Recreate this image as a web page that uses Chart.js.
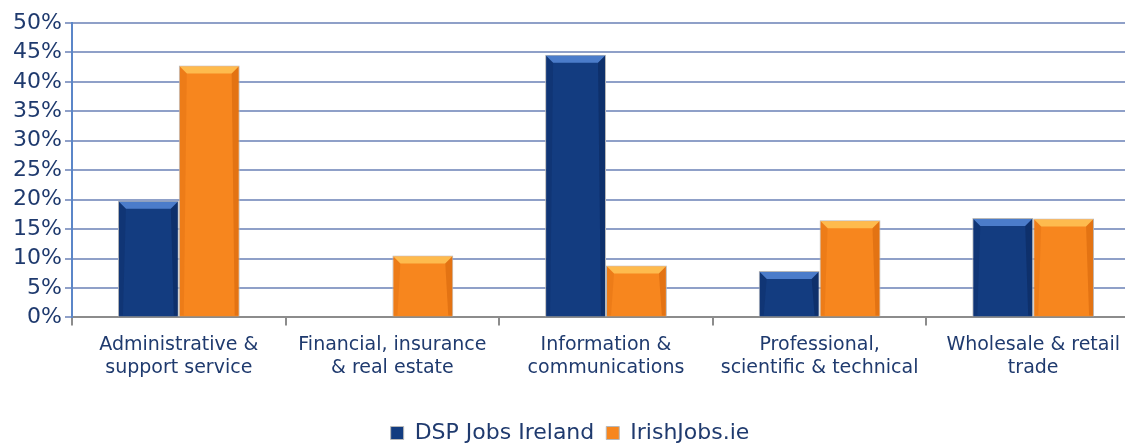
<!DOCTYPE html>
<html>
<head>
<meta charset="utf-8">
<script src="https://cdn.jsdelivr.net/npm/chart.js@4"></script>
<style>
  html, body { margin: 0; padding: 0; background: #fff; overflow: hidden; }
  #wrap { width: 1140px; height: 454px; position: relative; }
</style>
</head>
<body>
<div id="wrap"><canvas id="myChart"></canvas></div>
<script>
const categories = [
  ['Administrative &', 'support service'],
  ['Financial, insurance', '& real estate'],
  ['Information &', 'communications'],
  ['Professional,', 'scientific & technical'],
  ['Wholesale & retail', 'trade']
];
const dspJobs = [19.8, 0, 44.6, 7.9, 16.9];
const irishJobs = [42.8, 10.5, 8.8, 16.5, 16.8];
const seriesNames = ['DSP Jobs Ireland', 'IrishJobs.ie'];

const navy = '#1F3A6E';
// light / dark bevel shades per series
const bevels = [
  { light: 'rgba(90,140,220,0.8)', dark: 'rgba(5,25,70,0.35)' },
  { light: 'rgba(255,200,90,0.8)', dark: 'rgba(190,80,0,0.35)' }
];

// draws a simple 3d bevel over each bar, using the bar elements' own positions
const bevelPlugin = {
  id: 'bevel',
  afterDatasetsDraw(chart){
    const c = chart.ctx;
    chart.data.datasets.forEach((ds, i) => {
      const meta = chart.getDatasetMeta(i);
      meta.data.forEach(bar => {
        const p = bar.getProps(['x', 'y', 'base', 'width'], true);
        const h = p.base - p.y;
        if (h < 2) return;
        const l = p.x - p.width / 2 + 1, r = p.x + p.width / 2 - 1;
        const t = p.y + 1, b = p.base - 1;
        const bv = Math.min(7, h / 2);
        c.save();
        // top bevel
        c.fillStyle = bevels[i].light;
        c.beginPath();
        c.moveTo(l, t); c.lineTo(r, t); c.lineTo(r - bv, t + bv); c.lineTo(l + bv, t + bv);
        c.closePath(); c.fill();
        // right side
        c.fillStyle = bevels[i].dark;
        c.beginPath();
        c.moveTo(r, t); c.lineTo(r, b); c.lineTo(r - 4, b); c.lineTo(r - bv, t + bv);
        c.closePath(); c.fill();
        // left side, softer
        c.globalAlpha = 0.5;
        c.beginPath();
        c.moveTo(l, t); c.lineTo(l + bv, t + bv); c.lineTo(l + 4, b); c.lineTo(l, b);
        c.closePath(); c.fill();
        c.restore();
      });
    });
  }
};

chartIt();

function chartIt(){
  const ctx = document.getElementById('myChart');
  new Chart(ctx, {
    type: 'bar',
    data: {
      labels: categories,
      datasets: [{
        label: seriesNames[0],
        data: dspJobs,
        backgroundColor: '#133C80',
        borderColor: '#B8B8B8',
        borderWidth: 1
      }, {
        label: seriesNames[1],
        data: irishJobs,
        backgroundColor: '#F7861E',
        borderColor: '#B8B8B8',
        borderWidth: 1
      }]
    },
    plugins: [bevelPlugin],
    options: {
      responsive: true,
      maintainAspectRatio: false,
      animation: false,
      layout: { padding: { top: 23, left: 0, right: 0, bottom: 0 } },
      datasets: { bar: { categoryPercentage: 0.57, barPercentage: 1.0 } },
      plugins: {
        tooltip: { enabled: false },
        legend: {
          position: 'bottom',
          labels: {
            boxWidth: 13,
            boxHeight: 13,
            padding: 12,
            color: navy,
            font: { family: 'DejaVu Sans', size: 22 }
          }
        }
      },
      scales: {
        x: {
          afterFit(scale){ scale.height += 23; },
          grid: {
            offset: true,
            drawOnChartArea: false,
            color: '#8C8C8C',
            tickLength: 8,
            lineWidth: 2
          },
          border: { color: '#8C8C8C', width: 2 },
          ticks: {
            color: navy,
            padding: 8,
            maxRotation: 0,
            font: { family: 'DejaVu Sans', size: 19 }
          }
        },
        y: {
          min: 0,
          max: 50,
          afterFit(scale){ scale.width = 72; },
          ticks: {
            stepSize: 5,
            autoSkip: false,
            color: navy,
            padding: 3,
            font: { family: 'DejaVu Sans', size: 22 },
            callback: function(value){ return value + '%'; }
          },
          grid: {
            color: '#8FA0C8',
            lineWidth: 2,
            tickLength: 7
          },
          border: { color: '#5B86C8', width: 2 }
        }
      }
    }
  });
}
</script>
</body>
</html>
